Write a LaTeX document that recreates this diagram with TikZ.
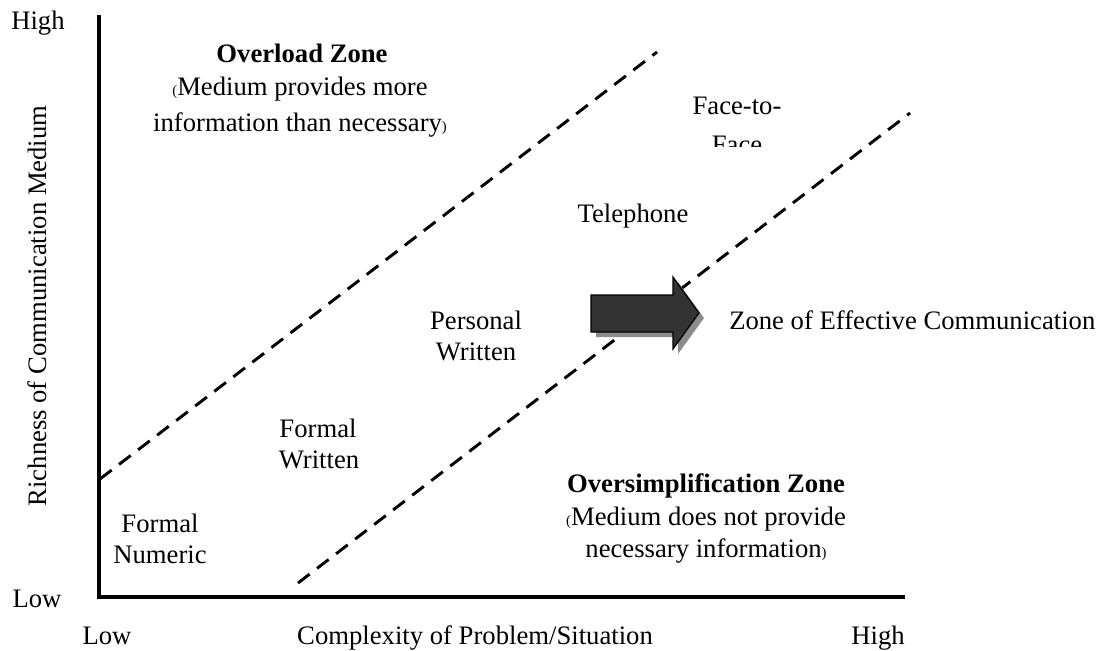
\documentclass[tikz,border=0pt]{standalone}
\usepackage{fontspec}
\setmainfont{Liberation Serif}
\definecolor{arrowfill}{HTML}{333333}
\definecolor{arrowshadow}{HTML}{8C8C8C}
\newcommand\zpo{{\fontsize{11}{11}\selectfont(}}
\newcommand\zpc{{\fontsize{11}{11}\selectfont)}}
\begin{document}
\begin{tikzpicture}[x=0.75pt,y=-0.75pt,
  lbl/.style={font=\fontsize{20}{23}\selectfont, inner sep=0pt, anchor=base},
  bold/.style={lbl, font=\fontsize{20}{23}\selectfont\bfseries},
  axis/.style={line width=2.3pt, line join=miter},
  zone/.style={line width=2.2pt, dash pattern=on 11pt off 7pt}]
\useasboundingbox (0,0) rectangle (1112,650);

% axes
\coordinate (ytop) at (99,15);
\coordinate (origin) at (99,597);
\coordinate (xend) at (905,597);
\draw[axis] (ytop) -- (origin) -- (xend);

% zone boundaries
\coordinate (a1) at (100,479);
\coordinate (a2) at (657,52);
\coordinate (b1) at (298,583);
\coordinate (b2) at (910,113);
\draw[zone] (a1) -- (a2);
\draw[zone] (b1) -- (b2);

% axis labels
\node[lbl] (yhigh) at (38,29) {High};
\node[lbl] (ylow) at (37,607) {Low};
\node[lbl] (xlow) at (107,644) {Low};
\node[lbl] (xhigh) at (878,644) {High};
\node[lbl] (xlab) at (475,644) {Complexity of Problem/Situation};
\node[lbl, rotate=90, anchor=center] (ylab) at (37,306) {Richness of Communication Medium};

% overload zone
\node[bold] (ovt) at (302,62) {Overload Zone};
\node[lbl] (ov1) at (300,95) {\zpo Medium provides more};
\node[lbl] (ov2) at (300,131) {information than necessary\zpc};

% oversimplification zone
\node[bold] (ost) at (706,492) {Oversimplification Zone};
\node[lbl] (os1) at (706,525) {\zpo Medium does not provide};
\begin{scope}
  \clip (560,530) rectangle (860,562);
  \node[lbl] (os2) at (706,557) {necessary information\zpc};
\end{scope}

% media
\node[lbl] (ftf1) at (737,114) {Face-to-};
\begin{scope}
  \clip (660,120) rectangle (820,146);
  \node[lbl] (ftf2) at (737,153) {Face};
\end{scope}
\node[lbl] (tel) at (633,222) {Telephone};
\node[lbl] (pw1) at (476,329) {Personal};
\node[lbl] (pw2) at (476,360) {Written};
\node[lbl] (fw1) at (318,437) {Formal};
\node[lbl] (fw2) at (319,468) {Written};
\node[lbl] (fn1) at (160,532) {Formal};
\node[lbl] (fn2) at (160,563) {Numeric};

% block arrow with drop shadow
\fill[arrowshadow, shift={(5,5)}]
  (591,295) -- (673,295) -- (673,277) -- (699,313) -- (673,349) -- (673,332) -- (591,332) -- cycle;
\filldraw[fill=arrowfill, draw=black, line width=0.9pt, line join=miter]
  (591,295) -- (673,295) -- (673,277) -- (699,313) -- (673,349) -- (673,332) -- (591,332) -- cycle;
\node[lbl, anchor=base west] (zec) at (729,329) {Zone of Effective Communication};
\end{tikzpicture}
\end{document}
